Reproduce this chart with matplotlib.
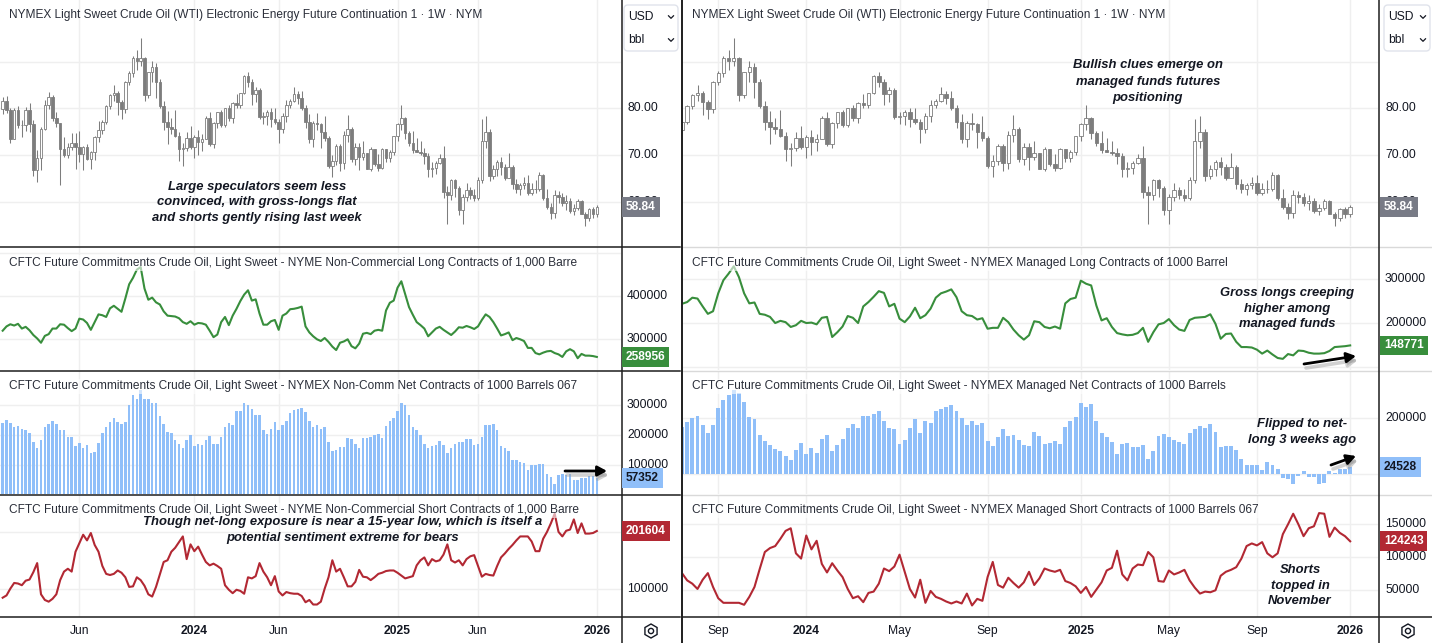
import matplotlib
matplotlib.use("Agg")
import matplotlib.pyplot as plt
from matplotlib.patches import FancyBboxPatch, RegularPolygon, Circle
from matplotlib.lines import Line2D
from matplotlib import font_manager as fm

W, H = 1432, 643
plt.rcParams["font.family"] = ["Liberation Sans", "DejaVu Sans"]
fig = plt.figure(figsize=(W / 100, H / 100), dpi=100)
fig.patch.set_facecolor("white")

_names = {f.name for f in fm.fontManager.ttflist}
if "Liberation Sans Narrow" in _names:
    NOTE = dict(family=["Liberation Sans Narrow", "DejaVu Sans"], size=11.0)
else:
    NOTE = dict(family=["Liberation Sans", "DejaVu Sans"], size=9.4)

# ---------------- data (week index 0 = week of 16 Jan 2023) ----------------
first_open = 79.86
close = [81.64, 79.68, 73.39, 79.72, 76.34, 76.32, 79.68, 76.68, 66.74, 69.26,
         75.67, 80.70, 82.52, 77.87, 76.78, 71.34, 70.04, 71.69, 72.67, 71.74,
         70.17, 71.78, 69.16, 70.64, 73.86, 75.42, 77.07, 80.58, 82.82, 83.19,
         81.25, 79.83, 85.55, 87.51, 90.77, 90.03, 90.79, 82.79, 87.69, 88.75,
         85.54, 80.51, 77.17, 75.89, 75.54, 74.07, 71.23, 71.43, 73.56, 71.65,
         73.81, 72.68, 73.41, 78.01, 72.28, 76.84, 79.19, 76.49, 79.97, 78.01,
         81.04, 80.63, 83.17, 86.91, 85.66, 83.14, 83.85, 78.11, 78.26, 79.23,
         77.72, 76.99, 75.53, 78.45, 80.73, 81.54, 83.16, 82.21, 80.13, 77.16,
         73.52, 76.84, 76.65, 74.83, 73.55, 67.67, 68.65, 71.92, 68.18, 74.38,
         75.56, 69.22, 71.78, 69.49, 70.38, 67.02, 71.24, 68.00, 67.20, 71.29,
         69.46, 70.60, 73.96, 76.57, 77.88, 74.66, 72.53, 71.00, 70.74, 70.40,
         69.76, 67.04, 67.18, 68.28, 69.36, 61.99, 61.50, 64.68, 63.02, 58.29,
         61.02, 62.49, 61.53, 60.79, 64.58, 72.98, 74.93, 65.52, 67.00, 68.45,
         67.34, 65.16, 67.33, 63.88, 62.80, 63.66, 64.01, 61.87, 62.69, 62.68,
         65.72, 60.88, 58.90, 57.54, 61.50, 60.98, 59.75, 60.09, 58.06, 58.55,
         60.08, 57.44, 56.52, 58.35, 57.32, 58.84]
high = [82.38, 82.66, 80.00, 80.04, 80.42, 77.40, 80.30, 81.04, 77.40, 71.10,
        76.00, 81.81, 83.53, 82.80, 79.30, 76.90, 73.90, 72.60, 74.70, 74.70,
        75.06, 72.00, 72.30, 70.90, 74.00, 77.30, 77.40, 80.80, 83.00, 84.89,
        83.60, 81.80, 85.80, 88.08, 91.15, 92.43, 95.03, 91.00, 87.80, 90.20,
        89.80, 86.30, 81.50, 79.40, 78.00, 79.67, 74.90, 72.60, 74.90, 76.18,
        74.20, 75.30, 74.40, 78.30, 79.30, 77.00, 79.30, 79.60, 80.00, 80.80,
        81.30, 83.10, 83.30, 87.20, 87.67, 86.20, 84.50, 84.40, 79.30, 79.60,
        80.10, 80.10, 77.60, 78.90, 81.70, 82.00, 84.50, 83.60, 83.60, 80.70,
        78.80, 77.20, 79.00, 76.80, 78.40, 74.00, 70.10, 72.40, 72.40, 75.20,
        78.46, 76.00, 72.60, 72.60, 73.00, 70.50, 71.70, 71.30, 70.20, 71.40,
        71.30, 71.00, 74.10, 76.80, 80.77, 78.20, 75.20, 75.20, 73.60, 72.90,
        71.50, 70.40, 68.40, 68.80, 70.20, 72.00, 63.30, 64.90, 64.90, 63.30,
        61.60, 63.90, 63.10, 62.80, 65.30, 77.62, 78.40, 75.60, 67.90, 68.90,
        69.60, 68.10, 70.50, 67.80, 64.80, 64.00, 65.30, 65.80, 63.90, 64.60,
        66.40, 66.00, 62.80, 59.70, 62.60, 62.20, 61.80, 61.50, 60.70, 59.50,
        60.60, 60.30, 57.80, 58.60, 58.80, 59.20]
low = [78.83, 79.08, 72.50, 73.38, 75.80, 73.80, 75.10, 74.92, 65.60, 64.12,
       66.80, 75.30, 79.80, 77.20, 76.00, 63.57, 69.50, 69.40, 71.00, 67.00,
       68.48, 66.80, 68.90, 67.05, 69.00, 72.70, 74.40, 76.70, 79.90, 81.50,
       78.60, 77.60, 78.90, 85.00, 86.60, 88.20, 89.00, 81.50, 82.20, 85.70,
       82.30, 80.10, 75.30, 72.37, 74.60, 73.80, 68.80, 67.70, 70.80, 71.30,
       69.30, 70.10, 70.90, 73.40, 72.00, 71.40, 75.70, 76.00, 76.00, 77.30,
       76.90, 80.00, 80.00, 83.00, 84.60, 80.70, 81.30, 77.60, 76.60, 76.50,
       76.00, 76.60, 72.48, 74.80, 77.00, 80.00, 81.40, 80.90, 79.70, 75.70,
       72.60, 71.70, 75.30, 71.50, 73.00, 67.20, 65.27, 67.80, 66.60, 66.90,
       72.80, 68.60, 67.90, 66.70, 69.00, 66.90, 66.60, 67.60, 66.60, 67.00,
       68.50, 68.60, 70.00, 73.00, 75.40, 73.50, 71.90, 70.40, 70.60, 70.00,
       68.10, 65.20, 65.20, 66.00, 68.00, 60.80, 55.12, 60.30, 61.00, 57.20,
       55.30, 60.20, 60.50, 60.10, 60.30, 64.00, 71.60, 64.40, 64.80, 65.40,
       65.70, 64.70, 65.10, 62.70, 61.90, 61.50, 62.80, 61.50, 61.50, 61.80,
       62.30, 60.40, 58.50, 56.35, 56.60, 59.80, 59.00, 58.30, 57.60, 57.20,
       58.20, 57.30, 54.90, 55.80, 56.60, 56.80]
opens = [first_open] + close[:-1]   # weekly bar opens at prior weekly close

# Non-commercial positions, thousands of contracts (index 0..155)
nc_long = [320, 330, 335, 332, 336, 325, 329, 321, 310, 302, 292, 308, 312, 325, 325, 335, 334, 326, 319, 325,
           348, 346, 338, 322, 340, 358, 356, 352, 372, 378, 371, 364, 395, 428, 443, 462, 468, 418, 392, 397,
           386, 381, 365, 355, 354, 353, 349, 340, 336, 342, 334, 338, 337, 334, 320, 305, 311, 340, 352, 333,
           355, 371, 389, 404, 414, 390, 393, 360, 334, 334, 342, 345, 322, 355, 360, 370, 371, 373, 376, 330,
           316, 307, 300, 296, 303, 294, 283, 275, 292, 295, 300, 284, 279, 290, 313, 315, 312, 320, 322, 320,
           367, 385, 390, 420, 435, 405, 375, 357, 340, 333, 325, 307, 316, 325, 329, 322, 316, 310, 318, 328,
           327, 331, 328, 324, 330, 345, 358, 352, 340, 325, 309, 312, 316, 298, 303, 300, 296, 280, 280, 268,
           265, 269, 272, 273, 268, 265, 259, 272, 277, 272, 256, 266, 262, 262, 261, 258.956]
nc_net = [241, 250, 241, 228, 231, 221, 219, 208, 178, 156, 185, 228, 239, 248, 239, 219, 219, 194, 194, 163,
          174, 156, 167, 141, 144, 174, 208, 228, 245, 259, 244, 239, 245, 302, 333, 322, 350, 322, 322, 308,
          306, 263, 237, 211, 208, 183, 170, 156, 183, 200, 163, 170, 167, 183, 197, 172, 170, 194, 228, 241,
          233, 281, 281, 306, 300, 289, 267, 267, 219, 203, 222, 244, 217, 233, 248, 274, 283, 287, 291, 276,
          249, 228, 233, 222, 228, 178, 148, 152, 161, 161, 191, 186, 172, 156, 191, 191, 194, 200, 203, 191,
          231, 248, 259, 281, 308, 300, 267, 228, 219, 200, 172, 156, 163, 167, 180, 167, 141, 156, 172, 178,
          178, 186, 186, 167, 172, 194, 233, 233, 237, 217, 163, 156, 148, 117, 119, 111, 106, 83, 100, 100,
          103, 103, 72, 61, 39, 67, 72, 67, 70, 52, 50, 56, 56, 63, 63, 57.352]
nc_short = [84, 88, 100, 110, 109, 106, 114, 116, 129, 145, 90, 80, 77, 82, 90, 115, 130, 135, 130, 165,
            180, 195, 185, 198, 177, 165, 140, 126, 124, 126, 132, 128, 120, 103, 104, 120, 115, 105, 90, 86,
            103, 125, 147, 150, 165, 172, 182, 192, 152, 178, 166, 174, 160, 147, 141, 144, 140, 135, 106, 98,
            92, 98, 96, 91, 120, 118, 122, 145, 130, 120, 106, 122, 95, 88, 94, 92, 91, 91, 87, 76,
            80, 72, 72, 77, 100, 120, 150, 130, 135, 120, 104, 104, 112, 133, 121, 120, 115, 120, 126, 128,
            131, 132, 132, 128, 123, 118, 120, 122, 141, 150, 155, 141, 152, 148, 150, 160, 178, 150, 146, 150,
            141, 152, 157, 159, 140, 121, 126, 124, 123, 140, 155, 162, 170, 177, 185, 192, 192, 192, 183, 166,
            166, 188, 200, 215, 232, 200, 192, 202, 204, 222, 198, 215, 197, 197, 198, 201.604]

# Managed-money positions, thousands of contracts (index 26..155)
mm_start = 26
mm_long = [244, 248, 258, 256, 238, 221, 227, 268, 298, 313, 330, 305, 268, 245, 247, 221, 219, 214, 200, 205,
           202, 191, 195, 205, 200, 201, 197, 212, 214, 168, 179, 192, 216, 212, 200, 238, 248, 260, 273, 269,
           238, 244, 210, 202, 215, 235, 211, 218, 233, 258, 268, 272, 277, 259, 227, 218, 216, 208, 211, 187,
           189, 189, 212, 202, 185, 172, 162, 172, 204, 202, 191, 188, 192, 187, 245, 255, 258, 297, 290, 286,
           240, 206, 211, 191, 177, 174, 172, 173, 177, 189, 157, 179, 197, 200, 209, 195, 185, 182, 207, 212,
           213, 214, 220, 198, 164, 175, 176, 157, 145, 145, 144, 139, 130, 137, 128, 120, 118, 129, 126, 137,
           136, 132, 130, 130, 131, 136, 145, 146, 147, 148.771]
mm_net = [168, 184.5, 199, 205, 172.6, 145, 172.6, 234.5, 262, 282, 300, 288, 256, 202, 195, 138, 117, 102, 88, 80,
          64, 49, 86, 108, 70, 92, 73, 123, 138, 82, 102, 124, 164, 176, 163, 206, 206, 214, 224, 188,
          163, 160, 106, 120, 163, 196, 146, 187, 181, 223, 231, 237, 246, 224, 199, 174, 189, 173, 182, 116,
          99, 131, 161, 134, 138, 119, 103, 98, 149, 133, 107, 110, 117, 107, 167, 188, 202, 252, 238, 250,
          190, 145, 131, 113, 71, 105, 110, 95, 95, 101, 54, 81, 134.5, 140.5, 131, 119, 113, 107, 145, 161,
          169, 164, 178.6, 149, 95, 99, 99, 86, 54, 30, 30, 32, 14, 42, 32, 18, -14, -18, -36, -8,
          9.5, -10, -10, -36, -33, 9.5, 2, 18, 18, 24.528]
mm_short = [76, 65, 60, 52, 66, 76, 55, 38, 31, 31, 31, 31, 28, 40, 55, 82, 108, 114, 117, 128,
            140, 144, 106, 98, 133, 112, 125, 90, 77, 91, 80, 70, 52, 38, 41, 32, 46, 48, 60, 83,
            79, 86, 104, 78, 52, 39, 66, 31, 49, 40, 37, 33, 30, 33, 30, 45, 27, 37, 34, 70,
            93, 58, 54, 69, 61, 54, 62, 78, 58, 68, 83, 80, 78, 81, 64, 61, 56, 46, 55, 40,
            51, 62, 80, 84, 110, 74, 65, 83, 89, 88, 108, 100, 64, 63, 80, 74, 77, 81, 65, 54,
            45, 48, 47, 50, 72, 78, 81, 85, 98, 117, 121, 118, 123, 106, 100, 106, 135, 150, 166, 150,
            132, 144, 147, 167, 166, 131, 145, 137, 132, 124.243]

left_tick_idx = [20, 50, 72, 103, 124, 155]
left_tick_lbl = ["Jun", "2024", "Jun", "2025", "Jun", "2026"]
right_tick_idx = [33, 50, 68, 85, 103, 120, 137, 155]
right_tick_lbl = ["Sep", "2024", "May", "Sep", "2025", "May", "Sep", "2026"]

# ---------------- styling ----------------
GRID = "#efefef"
CANDLE = "#7d7d7d"
GREEN = "#388e3c"
RED = "#b22833"
BLUE = "#90bff9"
TXT = "#131722"
TITLE = "#2a2e39"

ROWS = {"price": (0, 246), "long": (247, 370), "net": (371, 494), "short": (495, 617)}

LEFT = dict(x0=0, x1=621, xlim=(-0.697, 161.3), cw=0.64, bw=0.62,
            ylim=dict(price=(50.51, 103.19), long=(228.6, 514.7), net=(4.3, 414.3), short=(50, 265)),
            grid=dict(price=[60, 70, 80, 90], long=[300, 400, 500], net=[100, 200, 300], short=[100, 200]),
            ylab=dict(price=[(80, "80.00"), (70, "70.00"), (60, "60.00")],
                      long=[(400, "400000"), (300, "300000")],
                      net=[(300, "300000"), (200, "200000"), (100, "100000")],
                      short=[(200, "200000"), (100, "100000")]),
            ticks=left_tick_idx, tlabels=left_tick_lbl, labx=627)
RIGHT = dict(x0=683, x1=1378, xlim=(26.2, 160.37), cw=0.66, bw=0.76,
             ylim=dict(price=(50.51, 103.19), long=(92.5, 374), net=(-72.5, 366.8), short=(9.5, 194.4)),
             grid=dict(price=[60, 70, 80, 90], long=[100, 200, 300], net=[0, 200], short=[50, 100, 150]),
             ylab=dict(price=[(80, "80.00"), (70, "70.00"), (60, "60.00")],
                       long=[(300, "300000"), (200, "200000")],
                       net=[(200, "200000"), (0, "0")],
                       short=[(150, "150000"), (100, "100000"), (50, "50000")]),
             ticks=right_tick_idx, tlabels=right_tick_lbl, labx=1385)


def px_axes(x0, y0, x1, y1):
    ax = fig.add_axes([x0 / W, 1 - y1 / H, (x1 - x0) / W, (y1 - y0) / H], zorder=1)
    ax.set_facecolor("white")
    for s in ax.spines.values():
        s.set_visible(False)
    ax.set_xticks([])
    ax.set_yticks([])
    return ax


def build(side):
    axs = {}
    for key, (y0, y1) in ROWS.items():
        ax = px_axes(side["x0"], y0, side["x1"], y1)
        ax.set_xlim(*side["xlim"])
        ax.set_ylim(*side["ylim"][key])
        for t in side["ticks"]:
            ax.axvline(t, color=GRID, lw=1, zorder=0)
        for g in side["grid"][key]:
            ax.axhline(g, color=GRID, lw=1, zorder=0)
        axs[key] = ax
    return axs


def draw_candles(ax, width):
    idx = list(range(len(close)))
    ax.vlines(idx, low, high, color=CANDLE, lw=0.75, zorder=2)
    bottoms = [min(o, c) for o, c in zip(opens, close)]
    heights = [max(abs(c - o), 0.12) for o, c in zip(opens, close)]
    faces = ["white" if c >= o else CANDLE for o, c in zip(opens, close)]
    ax.bar(idx, heights, bottom=bottoms, width=width, color=faces,
           edgecolor=CANDLE, linewidth=0.6, zorder=3)


def draw_side(side, lng, net, sht, start):
    axs = build(side)
    draw_candles(axs["price"], side["cw"])
    idx = list(range(start, start + len(lng)))
    axs["long"].plot(idx, lng, color=GREEN, lw=1.5, zorder=3, solid_joinstyle="round")
    axs["net"].bar(idx, net, width=side["bw"], color=BLUE, zorder=3)
    axs["short"].plot(idx, sht, color=RED, lw=1.5, zorder=3, solid_joinstyle="round")
    return axs


L = draw_side(LEFT, nc_long, nc_net, nc_short, 0)
R = draw_side(RIGHT, mm_long, mm_net, mm_short, mm_start)

# ---------------- overlay in pixel coordinates ----------------
ov = fig.add_axes([0, 0, 1, 1], zorder=20)
ov.set_xlim(0, W)
ov.set_ylim(H, 0)
ov.axis("off")


def ypix(ax, v):
    return H - ax.transData.transform((ax.get_xlim()[0], v))[1]


def xpix(ax, t):
    return ax.transData.transform((t, ax.get_ylim()[0]))[0]


def hline(y, x0, x1, color, lw=1.2):
    ov.add_line(Line2D([x0, x1], [y, y], color=color, lw=lw))


def vline(x, y0, y1, color, lw=1.2):
    ov.add_line(Line2D([x, x], [y0, y1], color=color, lw=lw))


# separators
for y in (246.5, 370.5, 494.5):
    hline(y, 0, 680, "#1e1e1e", 1.1)
    hline(y, 683, 1432, "#d9d9d9", 1.0)
hline(617, 0, 680, "#1e1e1e", 1.1)
hline(617, 683, 1432, "#1e1e1e", 1.1)
vline(621.5, 0, 643, "#1e1e1e", 1.1)
vline(682, 0, 643, "#1e1e1e", 1.4)
vline(1378.5, 0, 643, "#1e1e1e", 1.1)

# titles
title_price = "NYMEX Light Sweet Crude Oil (WTI) Electronic Energy Future Continuation 1 \u00b7 1W \u00b7 NYM"
titles_left = ["CFTC Future Commitments Crude Oil, Light Sweet - NYME Non-Commercial Long Contracts of 1,000 Barre",
               "CFTC Future Commitments Crude Oil, Light Sweet - NYMEX Non-Comm Net Contracts of 1000 Barrels 067",
               "CFTC Future Commitments Crude Oil, Light Sweet - NYME Non-Commercial Short Contracts of 1,000 Barre"]
titles_right = ["CFTC Future Commitments Crude Oil, Light Sweet - NYMEX Managed Long Contracts of 1000 Barrel",
                "CFTC Future Commitments Crude Oil, Light Sweet - NYMEX Managed Net Contracts of 1000 Barrels",
                "CFTC Future Commitments Crude Oil, Light Sweet - NYMEX Managed Short Contracts of 1000 Barrels 067"]
TBOX = dict(boxstyle="square,pad=0.15", fc="white", ec="none", alpha=0.6)
for x0, tl in ((9, titles_left), (692, titles_right)):
    ov.text(x0, 15, title_price, fontsize=8.6, color=TITLE, va="center", ha="left")
    for y, t in zip((263, 386.5, 510.5), tl):
        ov.text(x0, y, t, fontsize=8.6, color=TITLE, va="center", ha="left", bbox=TBOX)

# axis labels
for side, axs in ((LEFT, L), (RIGHT, R)):
    for key, labs in side["ylab"].items():
        for v, s in labs:
            ov.text(side["labx"], ypix(axs[key], v), s, fontsize=8.7, color=TXT, va="center", ha="left")
    for t, s in zip(side["ticks"], side["tlabels"]):
        ov.text(xpix(axs["short"], t), 631, s, fontsize=8.7, color=TXT, va="center", ha="center",
                fontweight="bold" if s.isdigit() else "normal")


def vbox(x, ax, v, s, fc, tc):
    ov.text(x, ypix(ax, v), s, fontsize=8.6, fontweight="bold", color=tc, va="center", ha="left",
            bbox=dict(boxstyle="square,pad=0.32", fc=fc, ec="none"), zorder=5)


for side, axs, lng, net, sht in ((LEFT, L, nc_long, nc_net, nc_short), (RIGHT, R, mm_long, mm_net, mm_short)):
    x = side["labx"] - 1
    vbox(x, axs["price"], close[-1], f"{close[-1]:.2f}", "#787b86", "white")
    vbox(x, axs["long"], lng[-1], f"{round(lng[-1] * 1000)}", GREEN, "white")
    vbox(x, axs["net"], net[-1], f"{round(net[-1] * 1000)}", BLUE, TXT)
    vbox(x, axs["short"], sht[-1], f"{round(sht[-1] * 1000)}", RED, "white")

# currency / unit selector
for bx, bw in ((624, 54), (1384, 46)):
    ov.add_patch(FancyBboxPatch((bx, 5), bw, 46, boxstyle="round,pad=0,rounding_size=4",
                                fc="white", ec="#e0e3eb", lw=1))
    ov.text(bx + 4, 17, "USD", fontsize=8.7, color=TXT, va="center", ha="left")
    ov.text(bx + 4, 40, "bbl", fontsize=8.7, color=TXT, va="center", ha="left")
    cx = bx + bw - 7
    for cy in (17, 40):
        ov.add_line(Line2D([cx - 2.5, cx, cx + 2.5], [cy - 1.2, cy + 1.3, cy - 1.2], color=TXT, lw=0.9))

# settings icons
for gx in (651, 1408):
    ov.add_patch(RegularPolygon((gx, 631), 6, radius=7, orientation=0, fc="white", ec=TXT, lw=1))
    ov.add_patch(Circle((gx, 631), 2.6, fc="white", ec=TXT, lw=1))


# annotations
def note(cx, ys, lines):
    for y, s in zip(ys, lines):
        ov.text(cx, y, s, ha="center", va="center", color=TXT, fontweight="bold", style="italic",
                fontfamily=NOTE["family"], fontsize=NOTE["size"])


note(257, (187, 202.5, 218.5), ["Large speculators seem less", "convinced, with gross-longs flat",
                                "and shorts gently rising last week"])
note(1148, (65, 81.5, 98), ["Bullish clues emerge on", "managed funds futures", "positioning"])
note(1287, (293, 309, 324.5), ["Gross longs creeping", "higher among", "managed funds"])
note(1302, (424, 440), ["Flipped to net-", "long 3 weeks ago"])
note(1300, (570, 585.5, 601), ["Shorts", "topped in", "November"])
note(343, (522, 538.5), ["Though net-long exposure is near a 15-year low, which is itself a",
                         "potential sentiment extreme for bears"])


def arrow(p0, p1):
    sh = dict(arrowstyle="-|>,head_length=0.55,head_width=0.3", lw=2.6, color="#9a9a9a", alpha=0.45,
              shrinkA=0, shrinkB=0)
    ov.annotate("", xy=(p1[0] + 2, p1[1] + 4), xytext=(p0[0] + 2, p0[1] + 4), arrowprops=sh)
    ar = dict(arrowstyle="-|>,head_length=0.55,head_width=0.3", lw=2.0, color="black",
              shrinkA=0, shrinkB=0)
    ov.annotate("", xy=p1, xytext=p0, arrowprops=ar)


arrow((565, 471), (607, 471))
arrow((1304, 364), (1356, 356))
arrow((1331, 465), (1356, 456))

fig.savefig("out.png", dpi=100, facecolor="white")
